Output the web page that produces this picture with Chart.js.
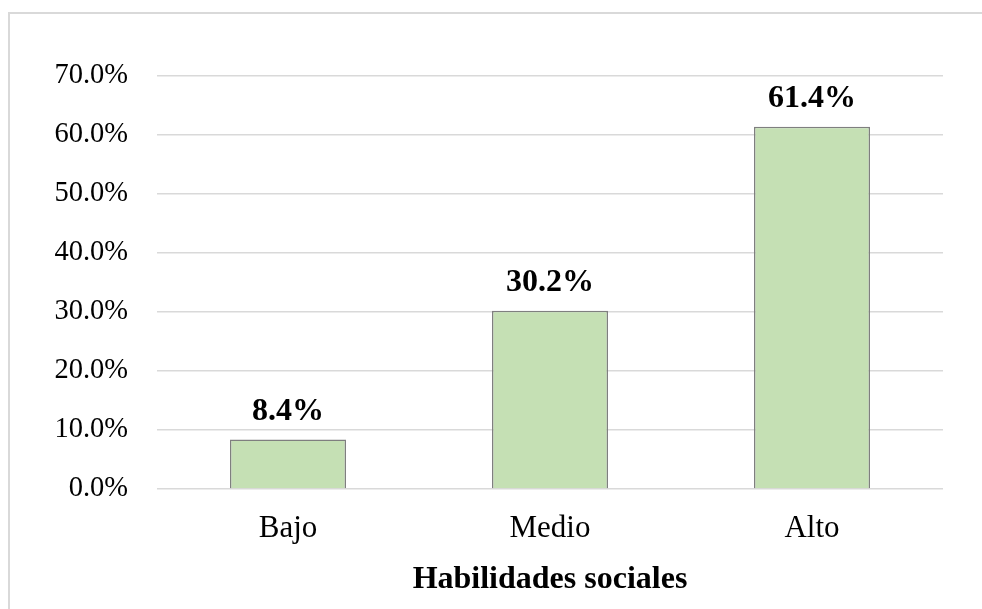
<!DOCTYPE html>
<html>
<head>
<meta charset="utf-8">
<script src="https://cdn.jsdelivr.net/npm/chart.js@4.4.1/dist/chart.umd.min.js"></script>
<style>
  html, body { margin: 0; padding: 0; background: #fff; overflow: hidden; }
  #frame {
    position: absolute; left: 8px; top: 12px; width: 1000px; height: 700px;
    border-left: 2px solid #d9d9d9; border-top: 2px solid #d9d9d9;
    pointer-events: none;
  }
  #wrap { position: absolute; left: 0; top: 0; width: 982px; height: 609px; }
</style>
</head>
<body>
<div id="wrap"><canvas id="grafico"></canvas></div>
<div id="frame"></div>
<script>
// datos
const categorias = ["Bajo", "Medio", "Alto"];
const porcentajes = [8.4, 30.2, 61.4];
const ticksY = [0, 10, 20, 30, 40, 50, 60, 70];
const tituloX = "Habilidades sociales";

const serif = "'Liberation Serif', 'Times New Roman', serif";

// etiquetas encima de cada barra
const etiquetas = {
  id: "etiquetas",
  afterDatasetsDraw(chart) {
    const ctx = chart.ctx;
    const meta = chart.getDatasetMeta(0);
    ctx.save();
    ctx.font = "bold 32px " + serif;
    ctx.fillStyle = "#000";
    ctx.textAlign = "center";
    ctx.textBaseline = "middle";
    meta.data.forEach(function (bar, i) {
      ctx.fillText(porcentajes[i].toFixed(1) + "%", bar.x, bar.y - 28);
    });
    ctx.restore();
  }
};

const ctx = document.getElementById("grafico");
new Chart(ctx, {
  type: "bar",
  data: {
    labels: categorias,
    datasets: [
      {
        data: porcentajes,
        backgroundColor: "#c5e0b4",
        borderColor: "#7f7f7f",
        borderWidth: 1.5,
        barPercentage: 0.443,
        categoryPercentage: 1
      }
    ]
  },
  options: {
    responsive: true,
    maintainAspectRatio: false,
    animation: false,
    layout: { padding: { left: 0, right: 39, top: 76, bottom: 0 } },
    plugins: {
      legend: { display: false },
      tooltip: { enabled: false }
    },
    scales: {
      x: {
        grid: { display: false, drawTicks: false },
        border: { display: false },
        ticks: {
          color: "#000",
          padding: 21,
          font: { family: serif, size: 31 }
        },
        title: {
          display: true,
          text: tituloX,
          color: "#000",
          padding: { top: 0, bottom: 10 },
          font: { family: serif, size: 32, weight: "bold" }
        },
        afterFit: function (scale) { scale.height = 120; }
      },
      y: {
        min: 0,
        max: 70,
        afterBuildTicks: function (scale) {
          scale.ticks = ticksY.map(function (v) { return { value: v }; });
        },
        grid: { color: "#d9d9d9", lineWidth: 1.5, drawTicks: false },
        border: { display: false },
        ticks: {
          color: "#000",
          padding: 29,
          font: { family: serif, size: 28.5 },
          callback: function (v) { return v.toFixed(1) + "%"; }
        },
        afterFit: function (scale) { scale.width = 157; }
      }
    }
  },
  plugins: [etiquetas]
});
</script>
</body>
</html>
